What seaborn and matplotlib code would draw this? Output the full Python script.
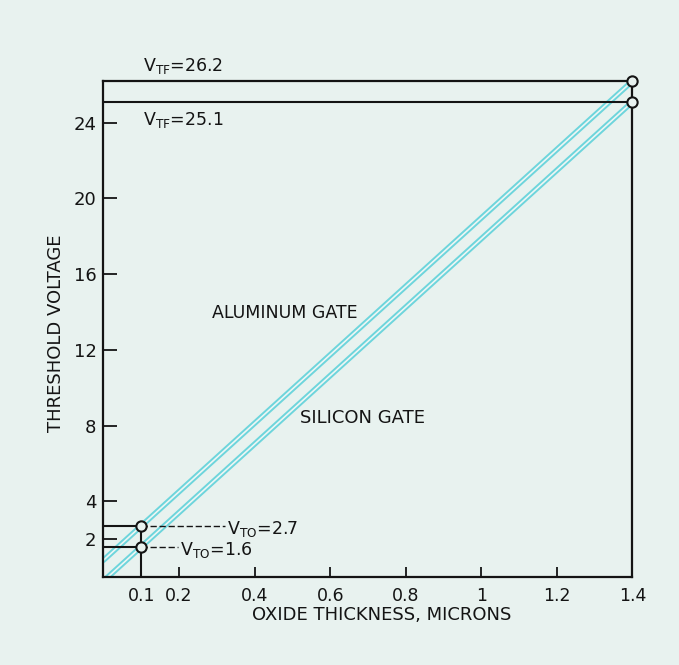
import matplotlib
matplotlib.use('Agg')
import matplotlib.pyplot as plt
import pandas as pd
import seaborn as sns

# threshold voltage vs oxide thickness (microns)
thickness = [0.0, 0.1, 1.4]
aluminum_gate = [0.89, 2.7, 26.2]
silicon_gate = [-0.21, 1.6, 25.1]

x_ticks = [0.1, 0.2, 0.4, 0.6, 0.8, 1.0, 1.2, 1.4]
x_tick_labels = ['0.1', '0.2', '0.4', '0.6', '0.8', '1', '1.2', '1.4']
y_ticks = [2, 4, 8, 12, 16, 20, 24]

vto_x = 0.1
vto = [2.7, 1.6]
vtf_x = 1.4
vtf = [26.2, 25.1]
vto_label_x = [0.326, 0.202]

bg = '#e8f2ef'
ink = '#141414'
cyan = '#6dd5dc'

sns.set_theme(style='ticks')
plt.rcParams['font.family'] = ['DejaVu Sans']
plt.rcParams['mathtext.fontset'] = 'dejavusans'

fig = plt.figure(figsize=(6.79, 6.65), dpi=100, facecolor=bg)
ax = fig.add_axes([0.1524, 0.1323, 0.7791, 0.7459])
ax.set_facecolor(bg)

df = pd.DataFrame({
    'thickness': thickness * 2,
    'voltage': aluminum_gate + silicon_gate,
    'gate': ['Aluminum'] * 3 + ['Silicon'] * 3,
})

# light cyan double-edged bands
sns.lineplot(data=df, x='thickness', y='voltage', units='gate', estimator=None,
             color=cyan, linewidth=4.0, ax=ax, legend=False, zorder=2)
sns.lineplot(data=df, x='thickness', y='voltage', units='gate', estimator=None,
             color='#eef6f4', linewidth=1.2, ax=ax, legend=False, zorder=2.1)

# reference lines
ax.axhline(vtf[1], color=ink, linewidth=1.5, zorder=3)
ax.vlines(vto_x, 0, vto[0], color=ink, linewidth=1.5, zorder=3)
for v, lx in zip(vto, vto_label_x):
    ax.hlines(v, 0, vto_x, color=ink, linewidth=1.5, zorder=3)
    ax.hlines(v, vto_x, lx - 0.004, color=ink, linewidth=1.0,
              linestyles=(0, (4.5, 2)), zorder=3)
    ax.annotate(r'V$_{\rm TO}$=' + f'{v}', xy=(lx, v), xytext=(0, -2),
                textcoords='offset points', ha='left', va='center',
                fontsize=12.5, color=ink)

# open circles
pts = pd.DataFrame({'x': [vto_x] * 2 + [vtf_x] * 2, 'y': vto + vtf})
sns.scatterplot(data=pts, x='x', y='y', ax=ax, s=55, facecolor=bg,
                edgecolor=ink, linewidth=1.5, zorder=5, clip_on=False)

ax.annotate(r'V$_{\rm TF}$=' + f'{vtf[0]}', xy=(0.105, vtf[0]), xytext=(0, 11),
            textcoords='offset points', ha='left', va='center',
            fontsize=12.5, color=ink, annotation_clip=False)
ax.annotate(r'V$_{\rm TF}$=' + f'{vtf[1]}', xy=(0.105, vtf[1]), xytext=(0, -13),
            textcoords='offset points', ha='left', va='center',
            fontsize=12.5, color=ink)

ax.text(0.286, 13.97, 'ALUMINUM GATE', fontsize=12.5, color=ink, va='center')
ax.text(0.52, 8.41, 'SILICON GATE', fontsize=13, color=ink, va='center')

ax.set_xlim(0, 1.4)
ax.set_ylim(0, 26.2)
ax.set_xticks(x_ticks)
ax.set_xticklabels(x_tick_labels)
ax.set_yticks(y_ticks)
ax.tick_params(axis='x', direction='in', length=7.5, width=1.3, pad=7,
               labelsize=12.5, colors=ink)
ax.tick_params(axis='y', direction='in', length=10, width=1.3, pad=5,
               labelsize=13, colors=ink)
for s in ax.spines.values():
    s.set_linewidth(1.6)
    s.set_color(ink)

ax.set_xlabel('OXIDE THICKNESS, MICRONS', fontsize=13, color=ink)
ax.set_ylabel('THRESHOLD VOLTAGE', fontsize=13, color=ink)
ax.xaxis.set_label_coords(0.526, -0.0766)
ax.xaxis.label.set_va('center')
ax.yaxis.set_label_coords(-0.0898, 0.492)
ax.yaxis.label.set_va('center')

fig.savefig('out.png', dpi=100, facecolor=bg)
